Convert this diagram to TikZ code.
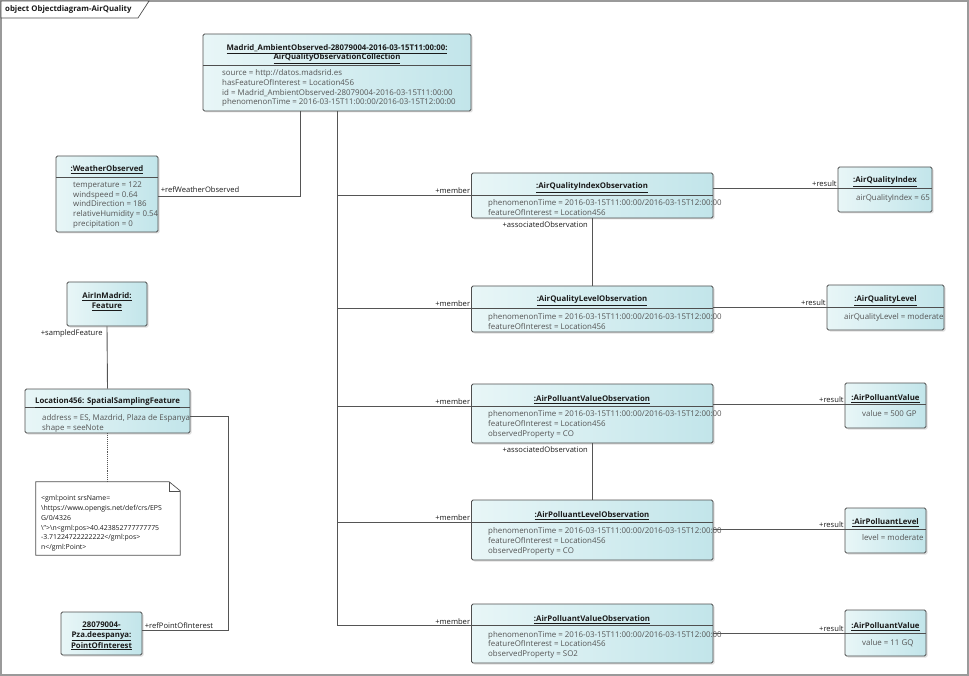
\documentclass[tikz,border=0pt]{standalone}
\usepackage{fontspec}
\setmainfont{Open Sans}
\usepackage{xcolor}
\usetikzlibrary{shadows, calc}
\definecolor{objleft}{HTML}{E8F6F7}
\definecolor{objright}{HTML}{C2E5EA}
\definecolor{objline}{HTML}{4F4F4F}
\definecolor{linkgray}{HTML}{555555}
\definecolor{textdark}{HTML}{1A1A1A}
\definecolor{textgray}{HTML}{555555}
\definecolor{framegray}{HTML}{9A9A9A}

\begin{document}
\begin{tikzpicture}[
  x=1pt, y=-1pt,
  obj/.style={rectangle, rounded corners=1.5pt, draw=objline, line width=0.8pt,
              left color=objleft, right color=objright, inner sep=0pt,
              drop shadow={opacity=0.25, shadow xshift=1.5pt, shadow yshift=-1.5pt}},
  objtitle/.style={font=\fontsize{7.8}{9.6}\selectfont\bfseries, text=textdark,
                   inner sep=0pt, align=center, yshift=-1.5pt},
  attr/.style={font=\fontsize{7.9}{9.75}\selectfont, text=textgray, inner sep=0pt,
               anchor=north west, align=left},
  notetext/.style={font=\fontsize{6.9}{9.7}\selectfont, text=textdark, inner sep=0pt,
                   anchor=north west, align=left},
  divline/.style={draw=objline, line width=0.6pt},
  link/.style={draw=linkgray, line width=0.9pt},
  noteline/.style={draw=linkgray, line width=0.9pt, densely dotted},
  role/.style={font=\fontsize{7.6}{9}\selectfont, text=textdark, inner sep=1.2pt},
]
\useasboundingbox (0,0) rectangle (969,676);

% diagram frame
\draw[framegray, line width=1.4pt] (1,1) rectangle (968,675);
\draw[objline, line width=0.7pt, fill=white] (1,1) -- (149,1) -- (138,18) -- (1,18) -- cycle;
\node[objtitle, anchor=west] (frametitle) at (5,8) {object Objectdiagram-AirQuality};

% collection
\node[obj, minimum width=268, minimum height=77] (coll) at (337,72.5) {};
\coordinate (coll-d) at (203,65);
\draw[divline] (coll-d) -- (coll-d -| coll.east);
\node[objtitle] (coll-t) at (337,52.5) {\underline{Madrid\_AmbientObserved-28079004-2016-03-15T11:00:00:}\\\underline{AirQualityObservationCollection}};
\node[attr] (coll-a) at (222,69.5) {source = http://datos.madsrid.es\\hasFeatureOfInterest = Location456\\id = Madrid\_AmbientObserved-28079004-2016-03-15T11:00:00\\phenomenonTime = 2016-03-15T11:00:00/2016-03-15T12:00:00};

% weather
\node[obj, minimum width=102, minimum height=76] (wo) at (107,194) {};
\coordinate (wo-d) at (56,177);
\draw[divline] (wo-d) -- (wo-d -| wo.east);
\node[objtitle] (wo-t) at (107,168) {\underline{:WeatherObserved}};
\node[attr] (wo-a) at (73,181.5) {temperature = 122\\windspeed = 0.64\\windDirection = 186\\relativeHumidity = 0.54\\precipitation = 0};

% air quality index observation
\node[obj, minimum width=241.5, minimum height=45] (aqio) at (592.25,195.5) {};
\coordinate (aqio-d) at (471.5,195);
\draw[divline] (aqio-d) -- (aqio-d -| aqio.east);
\node[objtitle] (aqio-t) at (592,186) {\underline{:AirQualityIndexObservation}};
\node[attr] (aqio-a) at (488,199.5) {phenomenonTime = 2016-03-15T11:00:00/2016-03-15T12:00:00\\featureOfInterest = Location456};

\node[obj, minimum width=94, minimum height=45] (aqi) at (885,189.5) {};
\coordinate (aqi-d) at (838,188);
\draw[divline] (aqi-d) -- (aqi-d -| aqi.east);
\node[objtitle] (aqi-t) at (885,180) {\underline{:AirQualityIndex}};
\node[attr] (aqi-a) at (856,194.5) {airQualityIndex = 65};

% air quality level observation
\node[obj, minimum width=241.5, minimum height=46] (aqlo) at (592.25,309) {};
\coordinate (aqlo-d) at (471.5,308);
\draw[divline] (aqlo-d) -- (aqlo-d -| aqlo.east);
\node[objtitle] (aqlo-t) at (592,299) {\underline{:AirQualityLevelObservation}};
\node[attr] (aqlo-a) at (488,313.5) {phenomenonTime = 2016-03-15T11:00:00/2016-03-15T12:00:00\\featureOfInterest = Location456};

\node[obj, minimum width=117, minimum height=45] (aql) at (885.5,307.5) {};
\coordinate (aql-d) at (827,307);
\draw[divline] (aql-d) -- (aql-d -| aql.east);
\node[objtitle] (aql-t) at (885.5,299) {\underline{:AirQualityLevel}};
\node[attr] (aql-a) at (844,313.5) {airQualityLevel = moderate};

% air polluant value observation (CO)
\node[obj, minimum width=241.5, minimum height=59] (apvo) at (592.25,413.5) {};
\coordinate (apvo-d) at (471.5,406);
\draw[divline] (apvo-d) -- (apvo-d -| apvo.east);
\node[objtitle] (apvo-t) at (592,398) {\underline{:AirPolluantValueObservation}};
\node[attr] (apvo-a) at (488,410.5) {phenomenonTime = 2016-03-15T11:00:00/2016-03-15T12:00:00\\featureOfInterest = Location456\\observedProperty = CO};

\node[obj, minimum width=81, minimum height=45] (apv) at (885.5,405.5) {};
\coordinate (apv-d) at (845,404);
\draw[divline] (apv-d) -- (apv-d -| apv.east);
\node[objtitle] (apv-t) at (885.5,397) {\underline{:AirPolluantValue}};
\node[attr] (apv-a) at (862,410.5) {value = 500 GP};

% air polluant level observation
\node[obj, minimum width=241.5, minimum height=60] (aplo) at (592.25,530) {};
\coordinate (aplo-d) at (471.5,522);
\draw[divline] (aplo-d) -- (aplo-d -| aplo.east);
\node[objtitle] (aplo-t) at (592,514) {\underline{:AirPolluantLevelObservation}};
\node[attr] (aplo-a) at (488,527.5) {phenomenonTime = 2016-03-15T11:00:00/2016-03-15T12:00:00\\featureOfInterest = Location456\\observedProperty = CO};

\node[obj, minimum width=81, minimum height=45] (apl) at (885.5,530.5) {};
\coordinate (apl-d) at (845,529);
\draw[divline] (apl-d) -- (apl-d -| apl.east);
\node[objtitle] (apl-t) at (885.5,521) {\underline{:AirPolluantLevel}};
\node[attr] (apl-a) at (862,534.5) {level = moderate};

% air polluant value observation (SO2)
\node[obj, minimum width=241.5, minimum height=59] (apvo2) at (592.25,633.5) {};
\coordinate (apvo2-d) at (471.5,625.5);
\draw[divline] (apvo2-d) -- (apvo2-d -| apvo2.east);
\node[objtitle] (apvo2-t) at (592,618) {\underline{:AirPolluantValueObservation}};
\node[attr] (apvo2-a) at (488,631) {phenomenonTime = 2016-03-15T11:00:00/2016-03-15T12:00:00\\featureOfInterest = Location456\\observedProperty = SO2};

\node[obj, minimum width=81, minimum height=46] (apv2) at (885.5,633) {};
\coordinate (apv2-d) at (845,633);
\draw[divline] (apv2-d) -- (apv2-d -| apv2.east);
\node[objtitle] (apv2-t) at (885.5,625) {\underline{:AirPolluantValue}};
\node[attr] (apv2-a) at (862,639.5) {value = 11 GQ};

% features
\node[obj, minimum width=80, minimum height=44] (aim) at (107,304) {};
\node[objtitle] (aim-t) at (107,300) {\underline{AirInMadrid:}\\\underline{Feature}};

\node[obj, minimum width=165, minimum height=44] (loc) at (107.5,411) {};
\coordinate (loc-d) at (25,407);
\draw[divline] (loc-d) -- (loc-d -| loc.east);
\node[objtitle] (loc-t) at (107.5,401) {\underline{Location456: SpatialSamplingFeature}};
\node[attr] (loc-a) at (42,414.5) {address = ES, Mazdrid, Plaza de Espanya\\shape = seeNote};

\node[fill=white, minimum width=144, minimum height=73, inner sep=0pt] (note) at (108,518.5) {};
\draw[objline, line width=0.7pt] (note.south west) -- (note.north west) -- ([xshift=-11pt]note.north east)
  -- ([yshift=-9pt]note.north east) -- (note.south east) -- cycle;
\draw[objline, line width=0.6pt] ([xshift=-11pt]note.north east) -- ([xshift=-11pt,yshift=-9pt]note.north east) -- ([yshift=-9pt]note.north east);
\node[notetext] (note-t) at (41,495.5) {<gml:point srsName=\\\textbackslash https://www.opengis.net/def/crs/EPS\\G/0/4326\\\textbackslash">\textbackslash n<gml:pos>40.423852777777775\\-3.71224722222222</gml:pos>\\n</gml:Point>};

\node[obj, minimum width=81, minimum height=43] (poi) at (101.5,633.5) {};
\node[objtitle] (poi-t) at (101.5,634.5) {\underline{28079004-}\\\underline{Pza.deespanya:}\\\underline{PointOfInterest}};

% connectors
\coordinate (refw) at (300,111);
\draw[link] (refw) |- ([yshift=-2pt]wo.east);
\node[role, anchor=south west] (refw-l) at ([xshift=1pt]wo.east) {+refWeatherObserved};

\draw[link] (coll.south) |- (aqio-d);
\draw[link] (coll.south) |- (aqlo-d);
\draw[link] (coll.south) |- (apvo-d);
\draw[link] (coll.south) |- (aplo-d);
\draw[link] (coll.south) |- (apvo2-d);
\node[role, anchor=south east] (m1) at (aqio-d) {+member};
\node[role, anchor=south east] (m2) at (aqlo-d) {+member};
\node[role, anchor=south east] (m3) at (apvo-d) {+member};
\node[role, anchor=south east] (m4) at (aplo-d) {+member};
\node[role, anchor=south east] (m5) at (apvo2-d) {+member};

\draw[link] (aqi-d -| aqio.east) -- (aqi-d);
\draw[link] (aql-d -| aqlo.east) -- (aql-d);
\draw[link] (apv-d -| apvo.east) -- (apv-d);
\draw[link] (apl-d -| aplo.east) -- (apl-d);
\draw[link] (apv2-d -| apvo2.east) -- (apv2-d);
\node[role, anchor=south east] (r1) at (aqi-d) {+result};
\node[role, anchor=south east] (r2) at (aql-d) {+result};
\node[role, anchor=south east] (r3) at (apv-d) {+result};
\node[role, anchor=south east] (r4) at (apl-d) {+result};
\node[role, anchor=south east] (r5) at (apv2-d) {+result};

\draw[link] (aqio.south) -- (aqlo.north);
\node[role, anchor=north east] (a1) at ([xshift=-3pt,yshift=-2pt]aqio.south) {+associatedObservation};
\draw[link] (apvo.south) -- (aplo.north);
\node[role, anchor=north east] (a2) at ([xshift=-3pt,yshift=-2pt]apvo.south) {+associatedObservation};

\draw[link] (aim.south) -- (loc.north);
\node[role, anchor=north east] (sf) at ([xshift=-3pt,yshift=-2pt]aim.south) {+sampledFeature};

\draw[noteline] (loc.south) -- (loc.south |- note.north);

\coordinate (refp) at (228,416);
\draw[link] (loc.east |- refp) -- (refp) |- ([yshift=3.5pt]poi.east);
\node[role, anchor=south west] (refp-l) at ([xshift=1pt,yshift=3.5pt]poi.east) {+refPointOfInterest};
\end{tikzpicture}
\end{document}
